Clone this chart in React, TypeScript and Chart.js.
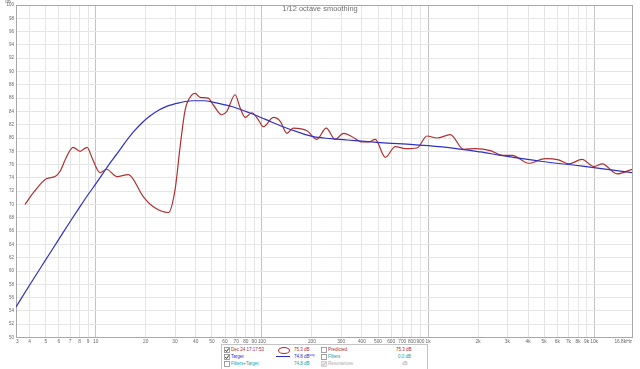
import React, { useEffect, useRef } from "react";
import { Chart, registerables } from "chart.js";
Chart.register(...registerables);

// Measurement (Dec 24 17:17:53), frequency in Hz and level in dB
const measFreq = [3.75, 4.19, 5.07, 5.69, 6.1, 6.62, 7.3, 8.04, 8.87, 9.5, 10.6, 11.6, 13.4, 15.7, 19.3, 22.1, 27.4, 30.0, 32.2, 34.5, 37.9, 39.6, 42.5, 47.5, 50.9, 57.4, 61.5, 69.0, 74.0, 79.3, 87.0, 95.4, 102, 117.5, 129, 141.5, 154.5, 187, 214, 244, 276, 310, 349, 400, 439, 481, 553, 635, 730, 859, 986, 1132, 1362, 1638, 1926, 2372, 2790, 3205, 4038, 5090, 6120, 7030, 8470, 9950, 11180, 13760, 16900];
const measDb = [70.0, 71.7, 73.9, 74.2, 75.0, 77.0, 78.6, 78.0, 78.6, 77.0, 74.8, 75.3, 74.2, 74.5, 71.2, 69.7, 68.8, 72.2, 78.7, 84.2, 86.5, 86.7, 86.1, 86.0, 85.0, 83.5, 84.0, 86.5, 84.5, 83.1, 83.8, 82.7, 81.7, 83.1, 82.5, 80.7, 81.5, 81.1, 79.8, 81.5, 79.8, 80.7, 80.2, 79.4, 79.4, 79.8, 77.1, 78.7, 78.4, 78.5, 80.3, 80.0, 80.5, 78.3, 78.4, 78.1, 77.4, 77.4, 76.2, 76.9, 76.7, 76.1, 76.8, 75.7, 76.1, 74.6, 75.3];

// Target curve
const targetFreq = [3.31, 4, 5, 6, 7, 8, 9, 10, 11, 12, 13.4, 15, 16.7, 19, 21.2, 24, 26.9, 32, 38, 45, 50.5, 66.6, 84, 105, 134, 169, 204, 260, 325, 416, 516, 815, 1300, 2066, 2729, 4753, 8278, 16900];
const targetDb = [54.6, 57.9, 61.7, 64.8, 67.4, 69.6, 71.5, 73.1, 74.6, 76.0, 77.6, 79.3, 80.8, 82.3, 83.3, 84.2, 84.8, 85.3, 85.6, 85.6, 85.4, 84.7, 83.8, 82.8, 81.7, 80.8, 80.2, 79.9, 79.7, 79.5, 79.3, 79.0, 78.6, 77.9, 77.4, 76.5, 75.8, 74.8];

// Axis ticks
const xTickValues = [3.31, 4, 5, 6, 7, 8, 9, 10, 20, 30, 40, 50, 60, 70, 80, 90, 100, 200, 300, 400, 500, 600, 700, 800, 900, 1000, 2000, 3000, 4000, 5000, 6000, 7000, 8000, 9000, 10000, 16900];
const xTickLabels = ["3", "4", "5", "6", "7", "8", "9", "10", "20", "30", "40", "50", "60", "70", "80", "90", "100", "200", "300", "400", "500", "600", "700", "800", "900", "1k", "2k", "3k", "4k", "5k", "6k", "7k", "8k", "9k", "10k", "16.8kHz"];
const yMin = 50;
const yMax = 100;
const yStep = 2;

const titleText = "1/12 octave smoothing";

const isDecade = (v: number) => [10, 100, 1000, 10000].includes(v);

function Check({ left, checked, grey = false }: { left: number; checked: boolean; grey?: boolean }) {
  return (
    <svg width={6} height={6} style={{ position: "absolute", left, top: 0.5 }}>
      <rect x={0.5} y={0.5} width={5} height={5} fill={grey ? "#eee" : "#fff"} stroke={grey ? "#c8c8c8" : "#8a8a8a"} strokeWidth={0.8} />
      {checked && (
        <polyline points="1.3,3 2.6,4.5 4.8,1.4" fill="none" stroke={grey ? "#bbb" : "#333"} strokeWidth={1} />
      )}
    </svg>
  );
}

function Legend() {
  const row: React.CSSProperties = { position: "absolute", left: 0, height: 7, width: "100%", lineHeight: "7px" };
  const txt = (left: number, color: string, extra: React.CSSProperties = {}): React.CSSProperties => ({
    position: "absolute",
    left,
    color,
    whiteSpace: "nowrap",
    ...extra,
  });
  const red = "#b02828";
  const blue = "#2828c8";
  const teal = "#10a0a0";
  return (
    <div
      style={{
        position: "absolute",
        left: 221,
        top: 344,
        width: 205,
        height: 24,
        border: "1px solid #c4c4c4",
        background: "#fff",
        fontFamily: "'Liberation Sans', Arial, sans-serif",
        fontSize: 4.5,
      }}
    >
      <div style={{ ...row, top: 1 }}>
        <Check left={2} checked={true} />
        <span style={txt(9, red)}>Dec 24 17:17:53</span>
        <span style={{ position: "absolute", left: 56, top: 0.5, width: 10, height: 5, border: `1px solid ${red}`, borderRadius: "50%" }} />
        <span style={txt(72, red)}>75.3 dB</span>
        <Check left={99} checked={false} />
        <span style={txt(106, red)}>Predicted</span>
        <span style={txt(174, red)}>75.3 dB</span>
      </div>
      <div style={{ ...row, top: 8 }}>
        <Check left={2} checked={true} />
        <span style={txt(9, blue)}>Target</span>
        <span style={{ position: "absolute", left: 54, top: 3, width: 14, height: 1.2, background: blue }} />
        <span style={txt(72, blue)}>
          74.8 dB<sup style={{ fontSize: 3, lineHeight: 0 }}>avg</sup>
        </span>
        <Check left={99} checked={false} />
        <span style={txt(106, teal)}>Filters</span>
        <span style={txt(176, teal)}>0.0 dB</span>
      </div>
      <div style={{ ...row, top: 15 }}>
        <Check left={2} checked={false} />
        <span style={txt(9, teal)}>Filters+Target</span>
        <span style={txt(72, teal)}>74.8 dB</span>
        <Check left={99} checked={true} grey={true} />
        <span style={txt(106, "#aaa")}>Resonances</span>
        <span style={txt(180, "#aaa")}>dB</span>
      </div>
    </div>
  );
}

export default function App() {
  const canvasRef = useRef<HTMLCanvasElement | null>(null);

  useEffect(() => {
    document.body.style.margin = "0";
    const canvas = canvasRef.current;
    if (!canvas) return;

    const overlay = {
      id: "overlayText",
      afterDraw(chart: any) {
        const ctx = chart.ctx;
        ctx.save();
        ctx.fillStyle = "#707070";
        ctx.font = "7.5px 'Liberation Sans', Arial, sans-serif";
        ctx.textAlign = "center";
        ctx.textBaseline = "middle";
        ctx.fillText(titleText, 320, 9);
        ctx.font = "4.5px 'Liberation Sans', Arial, sans-serif";
        ctx.fillStyle = "#777";
        ctx.fillText("dB", 8, 2);
        ctx.restore();
      },
    };

    const chart = new Chart(canvas, {
      type: "line",
      data: {
        datasets: [
          {
            label: "Target",
            data: targetFreq.map((f, i) => ({ x: f, y: targetDb[i] })),
            borderColor: "#3030c8",
            borderWidth: 1.2,
            pointRadius: 0,
            cubicInterpolationMode: "monotone",
            fill: false,
          },
          {
            label: "Dec 24 17:17:53",
            data: measFreq.map((f, i) => ({ x: f, y: measDb[i] })),
            borderColor: "#b03030",
            borderWidth: 1.2,
            pointRadius: 0,
            cubicInterpolationMode: "monotone",
            fill: false,
          },
        ],
      },
      options: {
        animation: false,
        responsive: false,
        maintainAspectRatio: false,
        layout: { padding: { top: 5, right: 8, left: 0, bottom: 0 } },
        plugins: { legend: { display: false }, tooltip: { enabled: false }, title: { display: false } },
        scales: {
          x: {
            type: "logarithmic",
            min: xTickValues[0],
            max: xTickValues[xTickValues.length - 1],
            afterBuildTicks: (scale: any) => {
              scale.ticks = xTickValues.map((v) => ({ value: v }));
            },
            afterFit: (scale: any) => {
              scale.height = 31.5;
            },
            ticks: {
              autoSkip: false,
              maxRotation: 0,
              minRotation: 0,
              align: "inner",
              padding: 1,
              color: "#666",
              font: { size: 4.8, family: "'Liberation Sans', Arial, sans-serif" },
              callback: (_v: any, i: number) => xTickLabels[i],
            },
            grid: {
              drawTicks: false,
              lineWidth: 1,
              color: (c: any) => {
                const v = c.tick && c.tick.value;
                if (c.index === 0 || c.index === xTickValues.length - 1) return "#a8a8a8";
                return isDecade(v) ? "#c4c4c4" : "#e4e4e4";
              },
            },
            border: { display: true, color: "#a8a8a8" },
          },
          y: {
            type: "linear",
            min: yMin,
            max: yMax,
            afterFit: (scale: any) => {
              scale.width = 16;
            },
            ticks: {
              stepSize: yStep,
              padding: 2,
              color: "#666",
              font: { size: 4.5, family: "'Liberation Sans', Arial, sans-serif" },
            },
            grid: {
              drawTicks: false,
              color: (c: any) => (c.tick && (c.tick.value === yMax || c.tick.value === yMin) ? "#a8a8a8" : "#e6e6e6"),
            },
            border: { display: true, color: "#a8a8a8" },
          },
        },
      },
      plugins: [overlay],
    } as any);

    return () => chart.destroy();
  }, []);

  return (
    <div style={{ position: "relative", width: 640, height: 369, background: "#fff", overflow: "hidden" }}>
      <canvas ref={canvasRef} width={640} height={369} style={{ display: "block" }} />
      <Legend />
    </div>
  );
}
